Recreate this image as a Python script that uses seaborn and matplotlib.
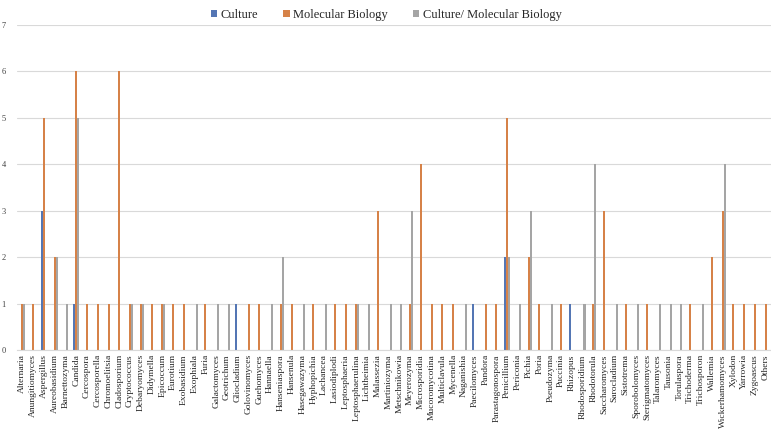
import matplotlib
matplotlib.use("Agg")
import matplotlib.pyplot as plt
import seaborn as sns
import pandas as pd
import numpy as np

genera = ["Alternaria", "Anungitiomyces", "Aspergillus", "Aureobasidium", "Barnettozyma",
          "Candida", "Cercospora", "Cercosporella", "Chromoelitsia", "Cladosporium",
          "Cryptococcus", "Debaryomyces", "Didymella", "Epicoccum", "Eurotium",
          "Exobasidium", "Exophiala", "Furia", "Galactomyces", "Geotrichum",
          "Gliocladium", "Golovinomyces", "Guehomyces", "Hannaella", "Hanseniaspora",
          "Hansenula", "Hasegawazyma", "Hyphopichia", "Lachancea", "Lasiodiplodi",
          "Leptosphaeria", "Leptosphaerulina", "Lichtheimia", "Malassezia", "Martiniozyma",
          "Metschnikowia", "Meyerozyma", "Microsporidia", "Mucoromycotina", "Multiclavula",
          "Mycenella", "Naganishia", "Paecilomyces", "Pandora", "Parastagonospora",
          "Penicillium", "Periconia", "Pichia", "Poria", "Pseudozyma",
          "Puccinia", "Rhizopus", "Rhodosporidium", "Rhodotorula", "Saccharomyces",
          "Sarocladium", "Sistotrema", "Sporobolomyces", "Sterigmatomyces", "Talaromyces",
          "Tausonia", "Torulaspora", "Trichoderma", "Trichosporon", "Wallemia",
          "Wickerhamomyces", "Xylodon", "Yarrowia", "Zygoascus", "Others"]

culture = [0, 0, 3, 0, 0, 1, 0, 0, 0, 0,
           0, 0, 0, 0, 0, 0, 0, 0, 0, 0,
           1, 0, 0, 0, 0, 0, 0, 0, 0, 0,
           0, 0, 0, 0, 0, 0, 0, 0, 0, 0,
           0, 0, 1, 0, 0, 2, 0, 0, 0, 0,
           0, 1, 0, 0, 0, 0, 0, 0, 0, 0,
           0, 0, 0, 0, 0, 0, 0, 0, 0, 0]

molecular = [1, 1, 5, 2, 0, 6, 1, 1, 1, 6,
             1, 1, 1, 1, 1, 1, 0, 1, 0, 0,
             0, 1, 1, 0, 1, 1, 0, 1, 0, 1,
             1, 1, 0, 3, 0, 0, 1, 4, 1, 1,
             1, 0, 0, 1, 1, 5, 0, 2, 1, 0,
             1, 0, 0, 1, 3, 0, 1, 0, 1, 0,
             0, 0, 1, 0, 2, 3, 1, 1, 1, 1]

cult_mol = [1, 0, 0, 2, 1, 5, 0, 0, 0, 0,
            1, 1, 0, 1, 0, 0, 1, 0, 1, 1,
            0, 0, 0, 1, 2, 0, 1, 0, 1, 0,
            0, 1, 1, 0, 1, 1, 3, 0, 0, 0,
            0, 1, 0, 0, 0, 2, 1, 3, 0, 1,
            0, 0, 1, 4, 0, 1, 0, 1, 0, 1,
            1, 1, 0, 1, 0, 4, 0, 0, 0, 0]

series_names = ["Culture", "Molecular Biology", "Culture/ Molecular Biology"]
colors = ["#4472C4", "#ED7D31", "#A5A5A5"]

df = pd.DataFrame({
    "genus": genera * 3,
    "method": [series_names[0]] * len(genera) + [series_names[1]] * len(genera) + [series_names[2]] * len(genera),
    "count": culture + molecular + cult_mol,
})

sns.set_style("white")
plt.rcParams["font.family"] = ["Liberation Serif", "DejaVu Serif"]

fig = plt.figure(figsize=(7.71, 4.30), dpi=100)
ax = fig.add_axes([0.022, 0.186, 0.978, 0.756])

sns.barplot(data=df, x="genus", y="count", hue="method", order=genera,
            hue_order=series_names, palette=colors, width=0.56,
            linewidth=0, errorbar=None, ax=ax)
for p in ax.patches:
    p.set_antialiased(False)

ax.set_ylim(0, 7)
ax.set_yticks(range(0, 8))
ax.set_xlim(-0.5, len(genera) - 0.5)
ax.yaxis.grid(True, color="#d9d9d9", linewidth=0.8)
ax.set_axisbelow(True)
for s in ["top", "right", "left"]:
    ax.spines[s].set_visible(False)
ax.spines["bottom"].set_color("#d9d9d9")
ax.spines["bottom"].set_linewidth(0.8)
ax.set_xlabel("")
ax.set_ylabel("")
ax.tick_params(axis="x", length=0, pad=3, labelsize=6.8, labelrotation=90)
ax.tick_params(axis="y", length=0, pad=8, labelsize=6, labelcolor="#404040")
for t in ax.get_xticklabels():
    t.set_va("top")
    t.set_ha("center")

handles, labels = ax.get_legend_handles_labels()
ax.legend(handles, labels, loc="upper center", bbox_to_anchor=(0.49, 1.085),
          ncol=3, frameon=False, fontsize=9, handlelength=0.5, handleheight=0.5,
          handletextpad=0.3, columnspacing=2.0)

fig.savefig("out.png", dpi=100)
